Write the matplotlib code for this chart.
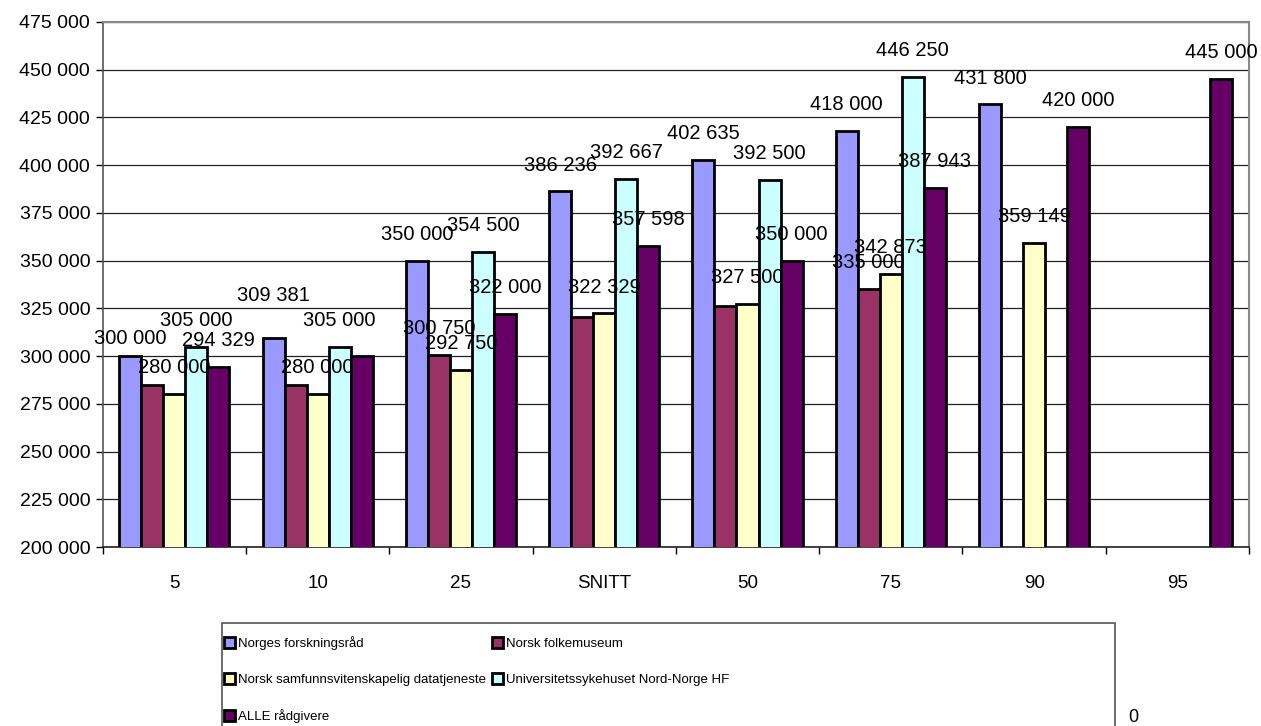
import numpy as np
import matplotlib
matplotlib.use("Agg")
import matplotlib.pyplot as plt
from matplotlib.patches import Rectangle
from matplotlib.ticker import FuncFormatter, FixedLocator

categories = ["5", "10", "25", "SNITT", "50", "75", "90", "95"]
series_names = [
    "Norges forskningsråd",
    "Norsk folkemuseum",
    "Norsk samfunnsvitenskapelig datatjeneste",
    "Universitetssykehuset Nord-Norge HF",
    "ALLE rådgivere",
]
nan = np.nan
forskningsrad = [300000, 309381, 350000, 386236, 402635, 418000, 431800, nan]
folkemuseum = [285000, 285000, 300750, 320500, 326000, 335000, nan, nan]
datatjeneste = [280000, 280000, 292750, 322329, 327500, 342873, 359149, nan]
unn = [305000, 305000, 354500, 392667, 392500, 446250, nan, nan]
alle = [294329, 300000, 322000, 357598, 350000, 387943, 420000, 445000]
series_values = [forskningsrad, folkemuseum, datatjeneste, unn, alle]

# bars that show no value label: (series index, category index)
hidden_labels = {(1, 0), (1, 1), (1, 3), (1, 4), (4, 1)}

colors = ["#9999FF", "#993366", "#FFFFCC", "#CCFFFF", "#660066"]

W, H = 1261, 726
fig = plt.figure(figsize=(W / 100, H / 100), dpi=100)
ax = fig.add_axes([102.7 / W, 1 - 547 / H, (1249 - 102.7) / W, (547 - 22) / H])

label_font = ["Liberation Sans", "DejaVu Sans"]


def fmt(v):
    return f"{int(v):,}".replace(",", " ")


x = np.arange(len(categories))
bw = 1 / 6.5
handles = []
for i, (vals, col) in enumerate(zip(series_values, colors)):
    pos = x + (i - 2) * bw
    bars = ax.bar(pos, vals, width=bw, color=col, edgecolor="black",
                  linewidth=2.0, zorder=3)
    handles.append(bars)
    for j, v in enumerate(vals):
        if np.isnan(v) or (i, j) in hidden_labels:
            continue
        dy = 19
        if (i, j) == (0, 0):
            dy = 13
        elif (i, j) == (0, 1):
            dy = 31
        ax.annotate(fmt(v), (pos[j], v),
                    xytext=(0, dy), textcoords="offset points",
                    ha="center", va="center", fontsize=14.5,
                    family=label_font, zorder=5, annotation_clip=False)

ax.set_ylim(200000, 475000)
ax.set_xlim(-0.5, len(categories) - 0.5)
ax.yaxis.set_major_locator(FixedLocator(np.arange(200000, 475001, 25000)))
ax.yaxis.set_major_formatter(FuncFormatter(lambda v, p: fmt(v)))
ax.grid(axis="y", color="#202020", linewidth=0.9, zorder=0)
ax.set_axisbelow(True)

ax.set_xticks(np.arange(-0.5, len(categories)), labels=[""] * (len(categories) + 1))
ax.set_xticks(x, labels=categories, minor=True)
ax.tick_params(axis="x", which="major", length=5, width=1, direction="out")
ax.tick_params(axis="x", which="minor", length=0, pad=20, labelsize=13.5)
for t in ax.get_xticklabels(minor=True):
    t.set_family(label_font)
ax.tick_params(axis="y", length=5, width=1, direction="out", labelsize=14, pad=4)
for t in ax.get_yticklabels():
    t.set_family(label_font)

for side in ["top", "right"]:
    ax.spines[side].set_color("#888888")
    ax.spines[side].set_linewidth(1.5)
ax.spines["left"].set_color("#555555")
ax.spines["left"].set_linewidth(1.2)
ax.spines["bottom"].set_color("#222222")
ax.spines["bottom"].set_linewidth(1.2)

# legend frame like the Excel box, running off the bottom edge
fig.patches.append(Rectangle((222 / W, -0.05), (1115 - 222) / W, 1 - 623 / H + 0.05,
                             transform=fig.transFigure, facecolor="white",
                             edgecolor="#555555", linewidth=1.2))
order = [0, 2, 4, 1, 3]
fig.legend([handles[k] for k in order], [series_names[k] for k in order],
           ncol=2, loc="upper left", bbox_to_anchor=(224 / W, 1 - 636 / H),
           frameon=False, borderpad=0, borderaxespad=0,
           handlelength=0.85, handleheight=0.85, handletextpad=0.2,
           labelspacing=1.75, columnspacing=0.45,
           prop={"family": label_font, "size": 9.5})

fig.text(1128 / W, 1 - 718 / H, "0", fontsize=13, family=label_font,
         ha="left", va="center")

fig.savefig("out.png", dpi=100)
